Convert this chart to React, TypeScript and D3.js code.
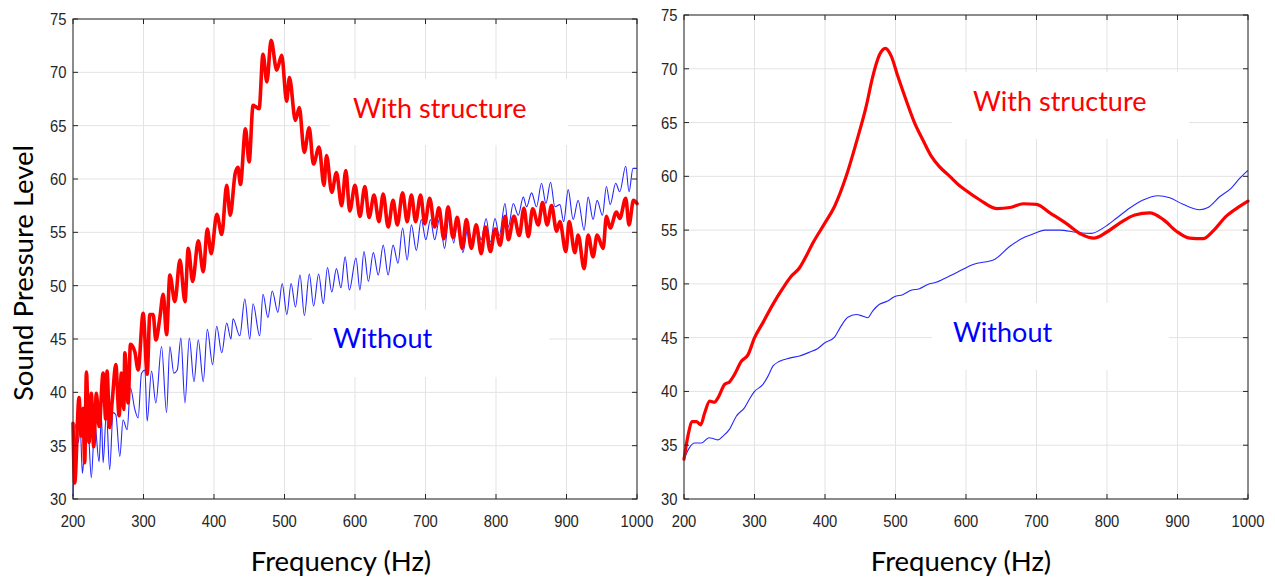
import React from "react";
import * as d3 from "d3";

// ---------- DATA ----------
const xTicks = [200, 300, 400, 500, 600, 700, 800, 900, 1000];
const yTicks = [30, 35, 40, 45, 50, 55, 60, 65, 70, 75];

// Left panel – "With structure" (measured, rippled)
const leftRedFreq = [200, 202.4, 208.5, 211.8, 214.2, 216.6, 219, 222.7, 226, 229.4, 233.2, 237, 242.7, 246.4, 248.3, 252, 256, 260.7, 265.4, 268.7, 272, 273.5, 278.2, 281.5, 287.7, 292.4, 299.5, 305.2, 309, 313.7, 317.5, 323.2, 328, 332.7, 337.4, 344.5, 351.7, 358.8, 363.5, 369.7, 377.7, 384.8, 390.5, 396, 404, 411, 418, 423, 430, 434, 437.5, 444.6, 449.8, 455.4, 464, 469.5, 475, 481, 489, 496, 503, 507, 515.5, 521, 528, 535, 541, 549, 556, 559.6, 567, 573.7, 581, 587, 592.5, 600, 607, 614, 620, 627, 634, 640, 647, 654, 660, 667.5, 674, 680, 686, 693, 699, 706, 713, 719, 726, 732, 739, 745, 752, 758, 765, 772, 779, 785, 792, 799, 805.7, 813, 817.5, 825.5, 833, 839.6, 845.8, 852, 860, 866, 872.6, 878.8, 886, 890.6, 899, 903.8, 911.8, 916.5, 925, 930.7, 937.7, 943.4, 952, 956.6, 962, 970.8, 975.5, 984, 988.7, 995, 1000];
const leftRedSpl = [37.1, 31.5, 39.5, 35.9, 38.5, 33.4, 41.9, 35.3, 39.9, 34.9, 39.9, 36.8, 41.8, 37.5, 42.0, 36.7, 39.5, 42.6, 37.8, 41.8, 38.4, 43.7, 39.0, 44.5, 43.8, 42.1, 47.4, 41.7, 47.3, 47.3, 44.9, 47.0, 49.2, 45.4, 51.0, 48.5, 52.4, 48.5, 53.5, 50.4, 54.2, 51.3, 55.3, 53.0, 56.7, 54.8, 59.4, 56.6, 60.5, 61.1, 59.5, 64.7, 61.6, 66.9, 66.6, 71.7, 69.1, 73.0, 70.2, 71.6, 67.3, 69.5, 65.5, 66.7, 62.5, 64.8, 61.4, 63.0, 59.4, 62.2, 58.75, 60.6, 57.5, 60.8, 57.0, 59.4, 56.5, 59.3, 56.4, 58.5, 56.0, 58.6, 55.5, 58.0, 55.7, 58.7, 56.0, 58.5, 56.0, 58.5, 55.8, 58.2, 55.5, 57.3, 54.4, 57.4, 54.5, 56.4, 53.5, 56.2, 53.5, 55.7, 53.0, 55.5, 53.2, 55.3, 53.8, 56.5, 54.3, 56.5, 54.7, 57.25, 54.6, 57.2, 55.7, 57.8, 55.7, 57.5, 55.1, 56.0, 53.2, 56.0, 53.1, 54.75, 51.6, 54.75, 52.7, 54.75, 53.5, 56.5, 55.4, 56.9, 56.3, 58.2, 55.7, 58.0, 57.7];

// Left panel – "Without"
const leftBlueFreq = [200, 203.8, 207, 210.4, 213.3, 216.6, 221.3, 226, 230.8, 237, 240.3, 242.7, 247.4, 252, 256.9, 260.7, 266.4, 271, 276.8, 281.5, 287.7, 292.4, 297.2, 302, 305.2, 311.4, 317.5, 325.6, 332.7, 337.4, 343, 347.9, 353, 358.8, 365, 371.6, 377.7, 384.8, 390.5, 398, 403.8, 411, 418, 424, 427, 436.6, 443.7, 450.7, 455.4, 464.8, 469.5, 476.5, 482.6, 490.6, 496.7, 503.3, 509.4, 515.5, 522, 528.2, 535.2, 541.3, 548.4, 555, 561, 567, 573.7, 580, 586, 592, 601.4, 607, 612.7, 619, 626, 633, 640, 647, 654, 661, 667.5, 674, 680, 687, 694, 700.5, 707, 713, 720, 727, 733.5, 740, 746, 753, 760, 766.5, 773, 779, 786, 792, 798.6, 804.7, 812.7, 817.5, 824.5, 831.6, 838.7, 843.4, 850.5, 857.5, 864.6, 870.8, 877.4, 883.5, 890.6, 896, 902.4, 909.4, 916.5, 925, 930.7, 937.7, 943.4, 951, 956.6, 962, 969.8, 975.5, 984, 988.7, 994.3, 1000];
const leftBlueSpl = [30.25, 37.0, 35.25, 36.5, 32.4, 34.9, 36.5, 32.0, 37.1, 33.5, 37.75, 33.4, 38.1, 32.75, 38.1, 37.9, 34.0, 37.4, 36.5, 40.4, 38.4, 37.6, 41.8, 42.1, 37.3, 42.0, 39.0, 44.3, 38.1, 44.3, 41.8, 42.1, 45.1, 39.0, 45.1, 41.0, 44.9, 41.0, 45.9, 42.6, 46.2, 43.7, 46.5, 45.0, 46.9, 45.3, 48.75, 45.0, 48.3, 45.3, 49.2, 47.0, 49.5, 47.5, 50.2, 47.3, 50.2, 48.0, 51.0, 47.2, 51.1, 48.1, 51.1, 48.3, 51.7, 49.4, 51.6, 49.8, 52.7, 49.6, 52.6, 49.6, 53.2, 50.4, 53.1, 51.0, 53.8, 51.0, 53.8, 52.1, 55.4, 52.4, 55.7, 53.3, 56.2, 54.3, 56.2, 54.3, 56.3, 53.5, 56.5, 54.0, 56.3, 53.1, 55.4, 54.1, 55.5, 54.3, 56.3, 54.1, 56.3, 54.7, 57.7, 55.5, 57.7, 56.6, 58.3, 57.4, 58.7, 57.4, 59.6, 57.7, 59.7, 57.4, 57.6, 56.0, 59.0, 56.2, 58.0, 55.2, 58.3, 56.2, 58.0, 56.6, 59.3, 57.6, 59.6, 58.8, 61.2, 58.8, 61.0, 61.0];

// Right panel – "With structure" (smoothed)
const rightRedFreq = [200, 205.7, 211.8, 217.5, 223.6, 229.3, 236.4, 243.5, 248.2, 257.6, 264.7, 271.8, 281.2, 290.7, 300.1, 312, 326.1, 340.3, 352.1, 363.9, 371, 382.8, 399.3, 413.5, 430, 444.2, 458.4, 467.8, 477.3, 485.8, 493.8, 503.3, 515, 526.9, 538.7, 550.5, 562.3, 577, 589.7, 598.6, 619.8, 643.4, 662.3, 681.2, 700, 719, 742.6, 763.8, 781.3, 799.2, 818.1, 839.4, 860.6, 879.5, 898.4, 917.3, 936.2, 950.3, 969.2, 988.1, 1000];
const rightRedSpl = [33.7, 35.9, 37.2, 37.2, 36.9, 38.0, 39.1, 39.0, 39.4, 40.65, 40.9, 41.6, 42.8, 43.4, 45.0, 46.4, 48.1, 49.6, 50.7, 51.5, 52.3, 53.8, 55.6, 57.2, 60.0, 63.1, 66.5, 69.3, 71.3, 71.9, 71.2, 69.3, 67.1, 65.0, 63.4, 61.9, 60.9, 60.0, 59.2, 58.75, 57.8, 57.0, 57.1, 57.45, 57.4, 56.6, 55.6, 54.6, 54.25, 54.8, 55.65, 56.4, 56.6, 56.0, 54.9, 54.25, 54.2, 54.9, 56.3, 57.2, 57.7];

// Right panel – "Without" (smoothed)
const rightBlueFreq = [200, 208, 215, 224.6, 235.4, 242, 248.2, 255.3, 264.7, 274.2, 286, 293, 300.1, 312, 319, 326.1, 335.6, 349.7, 363.9, 378, 389.9, 399.3, 413.5, 423, 432.4, 444.2, 453.7, 460.7, 467.8, 477.3, 489, 498.5, 510.3, 522.2, 534, 545.8, 557.6, 569.4, 588.3, 610, 641, 662.3, 683.6, 697.7, 711.9, 733.1, 756.7, 778, 796.9, 813.4, 832.3, 851.2, 872.4, 889, 907.8, 931.4, 943.2, 959.8, 976.3, 988.1, 1000];
const rightBlueSpl = [33.7, 34.8, 35.2, 35.2, 35.7, 35.6, 35.5, 35.85, 36.5, 37.7, 38.5, 39.3, 40.0, 40.65, 41.4, 42.35, 42.8, 43.1, 43.3, 43.65, 44.0, 44.5, 45.05, 46.1, 46.9, 47.15, 47.0, 46.85, 47.5, 48.1, 48.4, 48.8, 49.0, 49.4, 49.55, 49.95, 50.15, 50.5, 51.1, 51.8, 52.3, 53.5, 54.35, 54.7, 55.0, 55.0, 54.8, 54.7, 55.3, 56.1, 57.05, 57.8, 58.2, 58.0, 57.4, 56.9, 57.1, 58.1, 58.9, 59.8, 60.55];

const labelWith = "With structure";
const labelWithout = "Without";
const xLabel = "Frequency (Hz)";
const yLabel = "Sound Pressure Level";

// ---------- STYLE ----------
const RED = "#ff0000";
const BLUE = "#0000ff";
const GRID = "#e3e3e3";
const AXIS = "#262626";
const TICKFONT = "'Liberation Sans', Arial, Helvetica, sans-serif";
const LABELFONT = "Lato, 'Open Sans', sans-serif";

type Box = { x: number; y: number; w: number; h: number };
type PanelProps = {
  left: number;
  right: number;
  top: number;
  bottom: number;
  redF: number[];
  redV: number[];
  blueF: number[];
  blueV: number[];
  redWidth: number;
  withPos: [number, number];
  withoutPos: [number, number];
  withBox: Box;
  withoutBox: Box;
  xLabelX: number;
};

function Panel(p: PanelProps) {
  const x = d3.scaleLinear().domain([200, 1000]).range([p.left, p.right]);
  const y = d3.scaleLinear().domain([30, 75]).range([p.bottom, p.top]);
  const line = d3
    .line<[number, number]>()
    .x((d) => x(d[0]))
    .y((d) => y(d[1]))
    .curve(d3.curveMonotoneX);
  const red = line(p.redF.map((f, i) => [f, p.redV[i]]) as [number, number][]) || "";
  const blue = line(p.blueF.map((f, i) => [f, p.blueV[i]]) as [number, number][]) || "";
  const tl = 5;
  return (
    <g>
      <rect x={p.left} y={p.top} width={p.right - p.left} height={p.bottom - p.top} fill="#fff" />
      {xTicks.map((t) => (
        <line key={"gx" + t} x1={x(t)} x2={x(t)} y1={p.top} y2={p.bottom} stroke={GRID} strokeWidth={1} />
      ))}
      {yTicks.map((t) => (
        <line key={"gy" + t} x1={p.left} x2={p.right} y1={y(t)} y2={y(t)} stroke={GRID} strokeWidth={1} />
      ))}
      <rect x={p.withBox.x} y={p.withBox.y} width={p.withBox.w} height={p.withBox.h} fill="#fff" />
      <rect x={p.withoutBox.x} y={p.withoutBox.y} width={p.withoutBox.w} height={p.withoutBox.h} fill="#fff" />
      <path d={blue} fill="none" stroke={BLUE} strokeWidth={1.1} strokeOpacity={0.85} strokeLinejoin="round" />
      <path d={red} fill="none" stroke={RED} strokeWidth={p.redWidth} strokeLinejoin="round" strokeLinecap="round" />
      {/* box */}
      <rect x={p.left} y={p.top} width={p.right - p.left} height={p.bottom - p.top} fill="none" stroke={AXIS} strokeWidth={1} />
      {xTicks.map((t) => (
        <g key={"tx" + t}>
          <line x1={x(t)} x2={x(t)} y1={p.bottom} y2={p.bottom - tl} stroke={AXIS} />
          <line x1={x(t)} x2={x(t)} y1={p.top} y2={p.top + tl} stroke={AXIS} />
          <text
            transform={`translate(${x(t)},${p.bottom + 28}) scale(0.87,1)`}
            textAnchor="middle"
            fontFamily={TICKFONT}
            fontSize={17}
            fill={AXIS}
          >
            {t}
          </text>
        </g>
      ))}
      {yTicks.map((t) => (
        <g key={"ty" + t}>
          <line x1={p.left} x2={p.left + tl} y1={y(t)} y2={y(t)} stroke={AXIS} />
          <line x1={p.right} x2={p.right - tl} y1={y(t)} y2={y(t)} stroke={AXIS} />
          <text
            transform={`translate(${p.left - 6.5},${y(t) + 6}) scale(0.87,1)`}
            textAnchor="end"
            fontFamily={TICKFONT}
            fontSize={17}
            fill={AXIS}
          >
            {t}
          </text>
        </g>
      ))}
      <text x={p.withPos[0]} y={p.withPos[1]} fontFamily={LABELFONT} fontSize={27} fill={RED}>
        {labelWith}
      </text>
      <text x={p.withoutPos[0]} y={p.withoutPos[1]} fontFamily={LABELFONT} fontSize={27} fill={BLUE}>
        {labelWithout}
      </text>
      <text x={p.xLabelX} y={571} textAnchor="middle" fontFamily={LABELFONT} fontSize={27.5} fill="#000">
        {xLabel}
      </text>
    </g>
  );
}

export default function App() {
  return (
    <svg
      width={1275}
      height={580}
      viewBox="0 0 1275 580"
      style={{ position: "absolute", left: 0, top: 0, background: "#fff" }}
    >
      <rect x={0} y={0} width={1275} height={580} fill="#fff" />
      <Panel
        left={73}
        right={637}
        top={19}
        bottom={499}
        redF={leftRedFreq}
        redV={leftRedSpl}
        blueF={leftBlueFreq}
        blueV={leftBlueSpl}
        redWidth={3.6}
        withPos={[353, 118]}
        withoutPos={[333, 348]}
        withBox={{ x: 330, y: 79, w: 238, h: 66 }}
        withoutBox={{ x: 312, y: 310, w: 237, h: 67 }}
        xLabelX={341}
      />
      <Panel
        left={684}
        right={1248}
        top={15}
        bottom={499}
        redF={rightRedFreq}
        redV={rightRedSpl}
        blueF={rightBlueFreq}
        blueV={rightBlueSpl}
        redWidth={3.2}
        withPos={[973, 111]}
        withoutPos={[953, 342]}
        withBox={{ x: 952, y: 72, w: 237, h: 67 }}
        withoutBox={{ x: 932, y: 303, w: 237, h: 67 }}
        xLabelX={961}
      />
      <text
        transform={`translate(33,273) rotate(-90)`}
        textAnchor="middle"
        fontFamily={LABELFONT}
        fontSize={27.5}
        fill="#000"
      >
        {yLabel}
      </text>
    </svg>
  );
}
